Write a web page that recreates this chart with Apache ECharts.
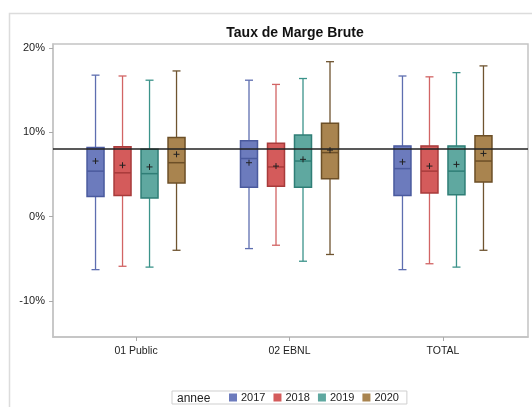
<!DOCTYPE html>
<html>
<head>
<meta charset="utf-8">
<script src="https://cdn.jsdelivr.net/npm/echarts@6/dist/echarts.min.js"></script>
<style>
  html, body { margin: 0; padding: 0; background: #fff; }
  #chart { width: 532px; height: 407px; }
</style>
</head>
<body>
<div id="chart"></div>
<script>
// categories and years
const categories = ['01 Public', '02 EBNL', 'TOTAL'];
const years = ['2017', '2018', '2019', '2020'];

// [whisker low, Q1, median, Q3, whisker high] per category, in %
const box2017 = [[-6.3, 2.4, 5.4, 8.2, 16.8], [-3.8, 3.5, 6.9, 9.0, 16.2], [-6.3, 2.5, 5.7, 8.4, 16.7]];
const box2018 = [[-5.9, 2.5, 5.2, 8.3, 16.7], [-3.4, 3.6, 5.9, 8.7, 15.7], [-5.6, 2.8, 5.4, 8.4, 16.6]];
const box2019 = [[-6.0, 2.2, 5.1, 8.0, 16.2], [-5.3, 3.5, 6.6, 9.7, 16.4], [-6.0, 2.6, 5.4, 8.4, 17.1]];
const box2020 = [[-4.0, 4.0, 6.4, 9.4, 17.3], [-4.5, 4.5, 7.6, 11.1, 18.4], [-4.0, 4.1, 6.6, 9.6, 17.9]];

// means per category
const mean2017 = [6.6, 6.4, 6.5];
const mean2018 = [6.1, 6.0, 6.0];
const mean2019 = [5.9, 6.8, 6.2];
const mean2020 = [7.4, 7.9, 7.5];

// reference line and y ticks
const refLine = 8;
const yTicks = [-10, 0, 10, 20];

const boxes = [box2017, box2018, box2019, box2020];
const means = [mean2017, mean2018, mean2019, mean2020];

const fills = ['#6c7bbd', '#d45b5b', '#5fa8a0', '#a9844f'];
const borders = ['#4a5a9e', '#a83b3b', '#2f7e76', '#6c4f27'];
const whiskers = ['#5e6eb0', '#d26464', '#3b938a', '#6f5430'];

const BOX_STEP = 27;
const BOX_W = 17;
const CAP_W = 8;

function makeRender(k) {
  return function (params, api) {
    const x = api.value(0);
    const cx = api.coord([x, 0])[0] + (k - 1.5) * BOX_STEP;
    const py = i => api.coord([x, api.value(i)])[1];
    const lo = py(1), q1 = py(2), med = py(3), q3 = py(4), hi = py(5), mn = py(6);
    const wStyle = {stroke: whiskers[k], lineWidth: 1.3};
    const bStyle = {stroke: borders[k], lineWidth: 1.5};
    return {
      type: 'group',
      children: [
        {type: 'line', shape: {x1: cx, y1: q1, x2: cx, y2: lo}, style: wStyle},
        {type: 'line', shape: {x1: cx, y1: q3, x2: cx, y2: hi}, style: wStyle},
        {type: 'line', shape: {x1: cx - CAP_W / 2, y1: lo, x2: cx + CAP_W / 2, y2: lo}, style: wStyle},
        {type: 'line', shape: {x1: cx - CAP_W / 2, y1: hi, x2: cx + CAP_W / 2, y2: hi}, style: wStyle},
        {type: 'rect', shape: {x: cx - BOX_W / 2, y: q3, width: BOX_W, height: q1 - q3},
          style: {fill: fills[k], stroke: borders[k], lineWidth: 1.5}},
        {type: 'line', shape: {x1: cx - BOX_W / 2, y1: med, x2: cx + BOX_W / 2, y2: med}, style: bStyle},
        {type: 'line', shape: {x1: cx - 3, y1: mn, x2: cx + 3, y2: mn}, style: {stroke: '#222', lineWidth: 1}},
        {type: 'line', shape: {x1: cx, y1: mn - 3, x2: cx, y2: mn + 3}, style: {stroke: '#222', lineWidth: 1}}
      ]
    };
  };
}

const series = years.map((year, k) => ({
  name: year,
  type: 'custom',
  z: 3,
  itemStyle: {color: fills[k], borderColor: borders[k], borderWidth: 1},
  renderItem: makeRender(k),
  encode: {x: 0, y: [1, 2, 3, 4, 5, 6]},
  data: boxes[k].map((b, i) => [i, ...b, means[k][i]])
}));

series.push({
  type: 'line',
  z: 1,
  data: [],
  markLine: {
    silent: true,
    symbol: 'none',
    label: {show: false},
    lineStyle: {color: '#222', width: 1.5, type: 'solid'},
    data: [{yAxis: refLine}]
  }
});

const chart = echarts.init(document.getElementById('chart'));
chart.setOption({
  animation: false,
  textStyle: {fontFamily: 'Liberation Sans, Arial, sans-serif'},
  title: {
    text: 'Taux de Marge Brute',
    left: 290,
    textAlign: 'center',
    top: 21,
    textStyle: {fontSize: 14, fontWeight: 'bold', color: '#111'}
  },
  graphic: [
    {type: 'rect', z: -10, shape: {x: 9.5, y: 13.5, width: 700, height: 600},
      style: {fill: 'none', stroke: '#dcdcdc', lineWidth: 1.5}},
    {type: 'text', left: 177, top: 393, style: {text: 'annee', fontSize: 12, fill: '#222',
      fontFamily: 'Liberation Sans, Arial, sans-serif'}}
  ],
  legend: {
    data: years,
    left: 172,
    top: 391,
    orient: 'horizontal',
    icon: 'rect',
    itemWidth: 8,
    itemHeight: 8,
    itemGap: 8,
    itemStyle: {borderWidth: 0},
    padding: [1, 8, 1, 57],
    borderColor: '#cfcfcf',
    borderWidth: 1,
    textStyle: {fontSize: 11, color: '#222', padding: [0, 0, 0, -1]}
  },
  grid: {
    left: 53, top: 44, right: 4, bottom: 70,
    show: true, borderColor: '#c4c4c4', borderWidth: 1.5
  },
  xAxis: {
    type: 'value',
    min: -0.541,
    max: 2.554,
    splitLine: {show: false},
    axisLine: {show: true, onZero: false, lineStyle: {color: '#c4c4c4', width: 1.5}},
    axisTick: {show: true, customValues: [0, 1, 2], length: 4, lineStyle: {color: '#aaa'}},
    axisLabel: {
      customValues: [0, 1, 2],
      formatter: v => categories[Math.round(v)],
      fontSize: 10.5, color: '#222', margin: 9
    }
  },
  yAxis: {
    type: 'value',
    min: -14.3,
    max: 20.5,
    splitLine: {show: false},
    axisLine: {show: true, onZero: false, lineStyle: {color: '#c4c4c4', width: 1.5}},
    axisTick: {show: true, customValues: yTicks, length: 4, lineStyle: {color: '#aaa'}},
    axisLabel: {
      customValues: yTicks,
      formatter: v => v + '%',
      fontSize: 11, color: '#222', margin: 8
    }
  },
  series: series
});
</script>
</body>
</html>
